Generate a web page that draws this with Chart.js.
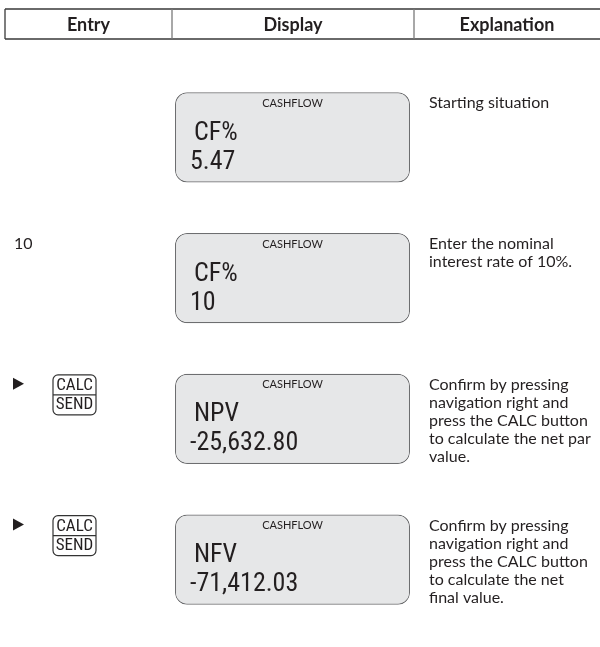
<!DOCTYPE html>
<html><head><meta charset="utf-8">
<script src="https://cdn.jsdelivr.net/npm/chart.js@4.4.1/dist/chart.umd.min.js"></script>
<style>html,body{margin:0;padding:0;background:#fff;}canvas{display:block}</style>
</head><body>
<canvas id="c" width="600" height="647"></canvas>
<script>
// ---- data ----
const columnHeaders = ['Entry', 'Display', 'Explanation'];
const steps = ['Starting situation', 'Nominal interest rate', 'Net par value', 'Net final value'];
const entryTexts = ['', '10', '', ''];
const entryArrows = [false, false, true, true];
const entryKeys = [null, null, ['CALC', 'SEND'], ['CALC', 'SEND']];
const displayTitles = ['CASHFLOW', 'CASHFLOW', 'CASHFLOW', 'CASHFLOW'];
const displayLabels = ['CF%', 'CF%', 'NPV', 'NFV'];
const displayValues = ['5.47', '10', '-25,632.80', '-71,412.03'];
const explanations = [
  ['Starting situation'],
  ['Enter the nominal', 'interest rate of 10%.'],
  ['Confirm by pressing', 'navigation right and', 'press the CALC button', 'to calculate the net par', 'value.'],
  ['Confirm by pressing', 'navigation right and', 'press the CALC button', 'to calculate the net', 'final value.']
];

// ---- styles ----
const INK = '#231f20';
const NARROW = '"Liberation Sans Narrow", "Roboto Condensed", Lato, sans-serif';
const TEXT = 'Lato, "Open Sans", sans-serif';

const pagePlugin = {
  id: 'page',
  afterDatasetsDraw(chart) {
    const ctx = chart.ctx;
    const ca = chart.chartArea;
    const W = chart.width;
    const colL = 5, col1 = ca.left - 3, col2 = ca.right + 4;
    const hTop = 9, hBot = 39;
    ctx.save();
    // header rules
    ctx.strokeStyle = '#3a3a3a';
    ctx.lineWidth = 1.3;
    ctx.beginPath();
    ctx.moveTo(colL, hTop); ctx.lineTo(W, hTop);
    ctx.moveTo(colL, hBot); ctx.lineTo(W, hBot);
    ctx.moveTo(colL, hTop); ctx.lineTo(colL, hBot);
    ctx.stroke();
    ctx.strokeStyle = '#7a7a7a';
    ctx.beginPath();
    ctx.moveTo(col1, hTop); ctx.lineTo(col1, hBot);
    ctx.moveTo(col2, hTop); ctx.lineTo(col2, hBot);
    ctx.stroke();
    ctx.fillStyle = INK;
    ctx.font = 'bold 18px ' + TEXT;
    ctx.textAlign = 'center';
    ctx.textBaseline = 'middle';
    const centers = [(colL + col1) / 2, (col1 + col2) / 2, (col2 + W) / 2];
    columnHeaders.forEach((h, i) => ctx.fillText(h, centers[i], (hTop + hBot) / 2 + 1));

    const meta = chart.getDatasetMeta(0);
    meta.data.forEach((el, i) => {
      const p = el.getProps(['x', 'y', 'base', 'height'], true);
      const left = Math.min(p.x, p.base), right = Math.max(p.x, p.base);
      const top = p.y - p.height / 2;
      // display text
      ctx.fillStyle = INK;
      ctx.textBaseline = 'middle';
      ctx.textAlign = 'center';
      ctx.font = '11px ' + TEXT;
      ctx.fillText(displayTitles[i], (left + right) / 2, top + 11);
      ctx.textAlign = 'left';
      ctx.font = '26px ' + NARROW;
      ctx.fillText(displayLabels[i], left + 19, top + 41);
      ctx.fillText(displayValues[i], left + 15, top + 70);
      // explanation
      ctx.font = '16px ' + TEXT;
      explanations[i].forEach((line, k) => ctx.fillText(line, col2 + 15, top + 11 + k * 18));
      // entry
      if (entryTexts[i]) ctx.fillText(entryTexts[i], 14, top + 11);
      if (entryArrows[i]) {
        const cy = top + 10;
        ctx.beginPath();
        ctx.moveTo(13, cy - 6); ctx.lineTo(24, cy); ctx.lineTo(13, cy + 6); ctx.closePath();
        ctx.fill();
      }
      if (entryKeys[i]) {
        const kx = 53, kw = 43, ky = top + 1, kh = 40;
        ctx.strokeStyle = '#333';
        ctx.lineWidth = 1.2;
        ctx.beginPath();
        ctx.roundRect(kx, ky, kw, kh, 5);
        ctx.stroke();
        ctx.beginPath();
        ctx.moveTo(kx, ky + kh / 2); ctx.lineTo(kx + kw, ky + kh / 2);
        ctx.stroke();
        ctx.textAlign = 'center';
        ctx.font = '17px ' + NARROW;
        ctx.fillText(entryKeys[i][0], kx + kw / 2, ky + 11);
        ctx.fillText(entryKeys[i][1], kx + kw / 2, ky + 30);
      }
    });
    ctx.restore();
  }
};

new Chart(document.getElementById('c'), {
  type: 'bar',
  data: {
    labels: steps,
    datasets: [{
      data: steps.map(() => [0, 1]),
      backgroundColor: '#e6e7e8',
      borderColor: '#6d6e70',
      borderWidth: 1.2,
      borderRadius: 12,
      borderSkipped: false,
      barPercentage: 0.64,
      categoryPercentage: 1
    }]
  },
  options: {
    indexAxis: 'y',
    responsive: false,
    animation: false,
    events: [],
    layout: { padding: { left: 175, right: 190, top: 67, bottom: 17 } },
    scales: {
      x: { display: false, min: 0, max: 1 },
      y: { display: false }
    },
    plugins: { legend: { display: false }, tooltip: { enabled: false } }
  },
  plugins: [pagePlugin]
});
</script>
</body></html>
